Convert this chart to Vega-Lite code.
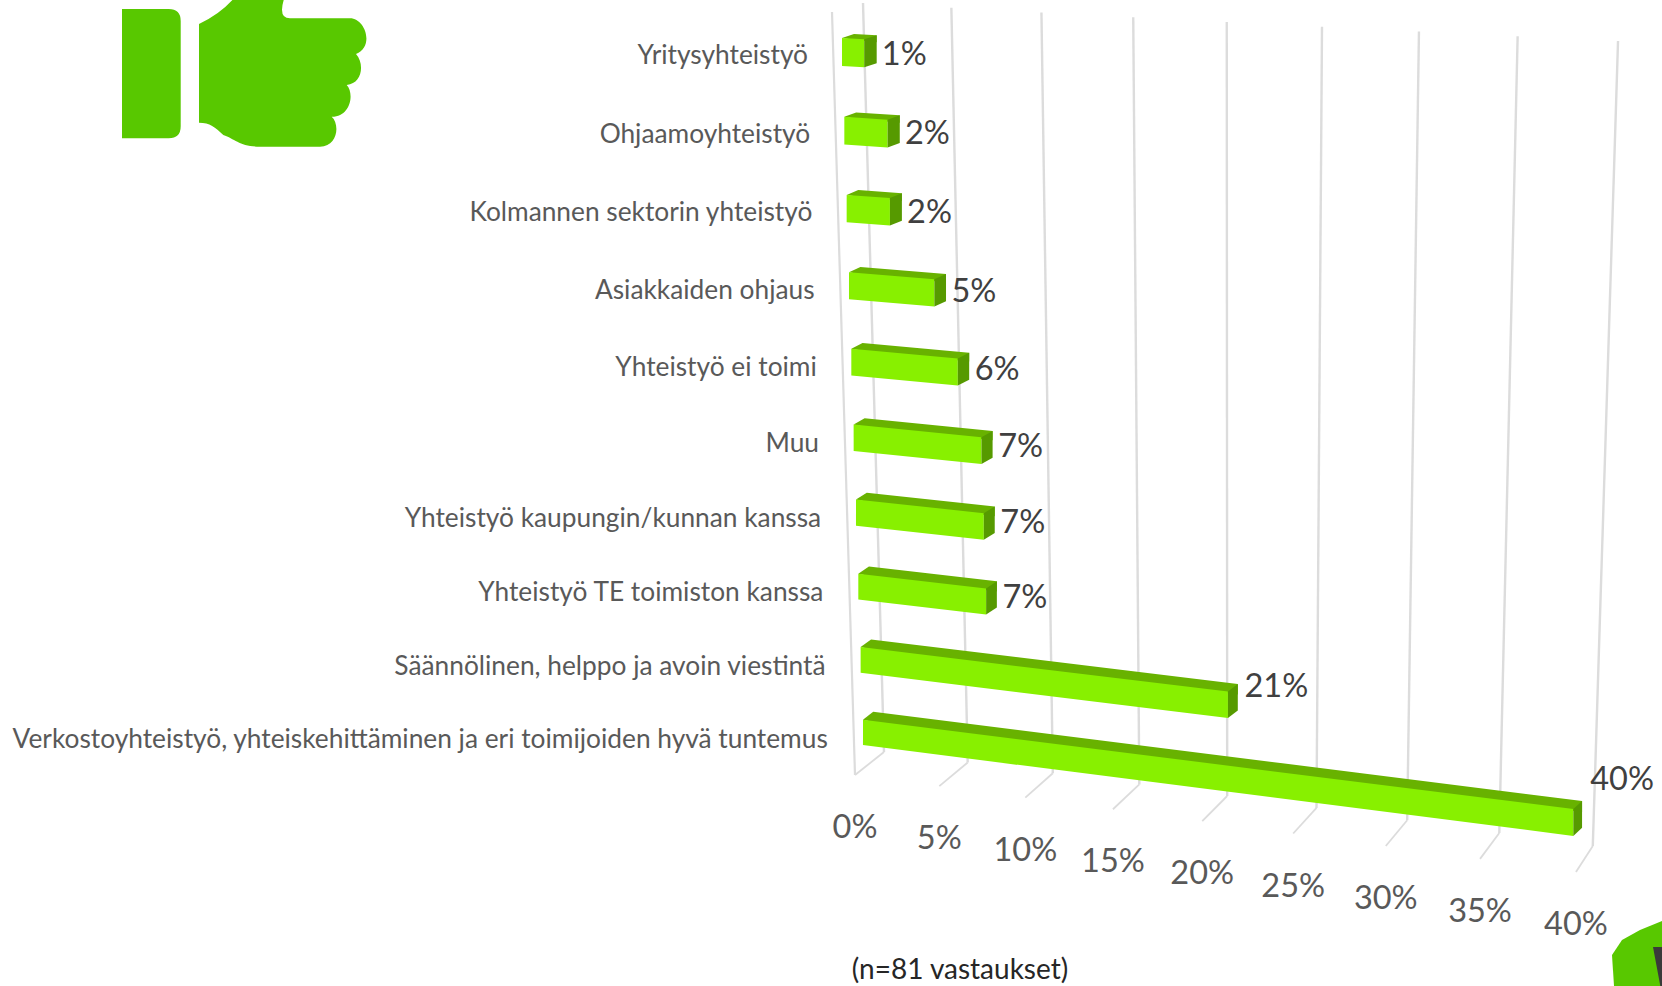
{
"$schema":"https://vega.github.io/schema/vega-lite/v6.json",
"width":1662,"height":986,"padding":0,"autosize":{"type":"none"},"background":"white",
"config":{"view":{"stroke":null},"text":{"font":"Lato"}},
"data":{"values":[
{"label":"Yritysyhteistyö","pct":1.23,"shown":"1%","rank":0},
{"label":"Ohjaamoyhteistyö","pct":2.47,"shown":"2%","rank":1},
{"label":"Kolmannen sektorin yhteistyö","pct":2.47,"shown":"2%","rank":2},
{"label":"Asiakkaiden ohjaus","pct":4.94,"shown":"5%","rank":3},
{"label":"Yhteistyö ei toimi","pct":6.17,"shown":"6%","rank":4},
{"label":"Muu","pct":7.41,"shown":"7%","rank":5},
{"label":"Yhteistyö kaupungin/kunnan kanssa","pct":7.41,"shown":"7%","rank":6},
{"label":"Yhteistyö TE toimiston kanssa","pct":7.41,"shown":"7%","rank":7},
{"label":"Säännölinen, helppo ja avoin viestintä","pct":20.99,"shown":"21%","rank":8},
{"label":"Verkostoyhteistyö, yhteiskehittäminen ja eri toimijoiden hyvä tuntemus","pct":39.5,"shown":"40%","rank":9}
]},
"datasets":{"ticks":[
{"tick":0,"name":"0%"},{"tick":5,"name":"5%"},{"tick":10,"name":"10%"},{"tick":15,"name":"15%"},{"tick":20,"name":"20%"},{"tick":25,"name":"25%"},{"tick":30,"name":"30%"},{"tick":35,"name":"35%"},{"tick":40,"name":"40%"}
]},
"transform":[
{"calculate":"842+2.33*datum.rank","as":"x0"},
{"calculate":"38+79.26*datum.rank-0.39*datum.rank*datum.rank","as":"yt0"},
{"calculate":"datum.x0+1.5+16.84*datum.pct+0.028*datum.pct*datum.pct","as":"x1"},
{"calculate":"datum.yt0+(1+0.14*datum.rank)*datum.pct","as":"yt1"},
{"calculate":"28-0.3*datum.rank","as":"h0"},
{"calculate":"datum.h0+0.04*datum.pct","as":"h1"},
{"calculate":"12.5-0.2*datum.rank-0.05*datum.pct","as":"dx"},
{"calculate":"12-0.2*datum.rank","as":"dx0"},
{"calculate":"4+0.45*datum.rank","as":"dy"}
],
"encoding":{
"x":{"field":"px","type":"quantitative","scale":{"domain":[0,1662]},"axis":null},
"y":{"field":"py","type":"quantitative","scale":{"domain":[0,986],"reverse":true},"axis":null}
},
"layer":[
{"data":{"name":"ticks"},
 "transform":[
 {"calculate":"863+17.5*datum.tick+0.0344*datum.tick*datum.tick","as":"px"},
 {"calculate":"3+0.95*datum.tick","as":"py"},
 {"calculate":"884+16.6*datum.tick+0.028*datum.tick*datum.tick","as":"bx"},
 {"calculate":"752+2.05*datum.tick+0.0075*datum.tick*datum.tick","as":"by"}],
 "mark":{"type":"rule","stroke":"#DCDCDC","strokeWidth":2.4},
 "encoding":{"x2":{"field":"bx"},"y2":{"field":"by"}}},
{"data":{"name":"ticks"},
 "transform":[
 {"calculate":"884+16.6*datum.tick+0.028*datum.tick*datum.tick","as":"px"},
 {"calculate":"752+2.05*datum.tick+0.0075*datum.tick*datum.tick","as":"py"},
 {"calculate":"855+16.7*datum.tick+0.0331*datum.tick*datum.tick","as":"bx"},
 {"calculate":"775+2.2*datum.tick+0.0056*datum.tick*datum.tick","as":"by"}],
 "mark":{"type":"rule","stroke":"#DCDCDC","strokeWidth":1.8},
 "encoding":{"x2":{"field":"bx"},"y2":{"field":"by"}}},
{"data":{"name":"ticks"},
 "transform":[{"filter":"datum.tick==0"},
 {"calculate":"832","as":"px"},{"calculate":"12","as":"py"},
 {"calculate":"855","as":"bx"},{"calculate":"775","as":"by"}],
 "mark":{"type":"rule","stroke":"#DCDCDC","strokeWidth":2.2},
 "encoding":{"x2":{"field":"bx"},"y2":{"field":"by"}}},
{"data":{"name":"ticks"},
 "transform":[
 {"calculate":"855+16.7*datum.tick+0.0331*datum.tick*datum.tick","as":"px"},
 {"calculate":"828+2.2*datum.tick+0.0056*datum.tick*datum.tick","as":"py"}],
 "mark":{"type":"text","fontSize":32.5,"align":"center","baseline":"middle","fill":"#595959"},
 "encoding":{"text":{"field":"name"}}},
{"transform":[
 {"calculate":"[0,1,2]","as":"t"},{"flatten":["t"]},
 {"calculate":"datum.t==0?datum.x0:(datum.t==1?datum.x0+datum.dx0:datum.x1+datum.dx)","as":"px"},
 {"calculate":"datum.t==0?datum.yt0:(datum.t==1?datum.yt0-datum.dy:datum.yt1-datum.dy)","as":"py"},
 {"calculate":"datum.t==0?datum.yt0:(datum.t==1?datum.yt0+(1+0.14*datum.rank)*datum.dx0/17+1:datum.yt1+3)","as":"py2"}],
 "mark":{"type":"area","fill":"#68B200","opacity":1},
 "encoding":{"y2":{"field":"py2"},"detail":{"field":"label"}}},
{"transform":[
 {"calculate":"[0,1]","as":"t"},{"flatten":["t"]},
 {"calculate":"datum.t*datum.pct","as":"q"},
 {"calculate":"datum.x0+datum.t*1.5+16.84*datum.q+0.028*datum.q*datum.q","as":"px"},
 {"calculate":"datum.yt0+(1+0.14*datum.rank)*datum.q","as":"py"},
 {"calculate":"datum.py+datum.h0+0.04*datum.q","as":"py2"}],
 "mark":{"type":"area","fill":"#88F000","opacity":1},
 "encoding":{"y2":{"field":"py2"},"detail":{"field":"label"}}},
{"transform":[
 {"calculate":"[0,1]","as":"t"},{"flatten":["t"]},
 {"calculate":"datum.x1+datum.t*datum.dx","as":"px"},
 {"calculate":"datum.yt1-datum.t*datum.dy","as":"py"},
 {"calculate":"datum.py+datum.h1","as":"py2"}],
 "mark":{"type":"area","fill":"#569A00","opacity":1},
 "encoding":{"y2":{"field":"py2"},"detail":{"field":"label"}}},
{"transform":[
 {"calculate":"808+2.2*datum.rank","as":"px"},
 {"calculate":"datum.yt0+18+0.2*datum.rank","as":"py"}],
 "mark":{"type":"text","fontSize":26.3,"align":"right","baseline":"middle","fill":"#595959"},
 "encoding":{"text":{"field":"label"}}},
{"transform":[
 {"calculate":"datum.x1+datum.dx+5+0.08*datum.pct","as":"px"},
 {"calculate":"datum.yt1+17-0.9*datum.pct-0.007*datum.pct*datum.pct","as":"py"}],
 "mark":{"type":"text","fontSize":32.5,"align":"left","baseline":"middle","fill":"#404040"},
 "encoding":{"text":{"field":"shown"}}},
{"data":{"values":[{"note":"(n=81 vastaukset)"}]},
 "transform":[{"calculate":"960","as":"px"},{"calculate":"971","as":"py"}],
 "mark":{"type":"text","fontSize":28,"align":"center","baseline":"middle","fill":"#262626"},
 "encoding":{"text":{"field":"note"}}},
{"data":{"values":[{"icon":"thumb"}]},
 "transform":[{"calculate":"235","as":"px"},{"calculate":"74","as":"py"}],
 "mark":{"type":"point","filled":true,"fill":"#58C800","opacity":1,"strokeWidth":0,"size":40000,
 "shape":"M-1.13 -0.65 L-0.663 -0.65 Q-0.543 -0.65 -0.543 -0.53 L-0.543 0.523 Q-0.543 0.643 -0.663 0.643 L-1.13 0.643 Z M-0.36 -0.5 Q-0.15 -0.6 -0.017 -0.75 L0.49 -0.75 Q0.43 -0.557 0.55 -0.557 L1.15 -0.557 C1.3 -0.557 1.4 -0.28 1.21 -0.2 C1.3 -0.1 1.27 0.1 1.117 0.11 C1.2 0.2 1.15 0.43 0.967 0.427 C1.05 0.5 1.03 0.727 0.85 0.727 L0.25 0.727 C0.05 0.727 0 0.65 -0.117 0.61 C-0.2 0.53 -0.25 0.487 -0.36 0.487 Z"}},
{"data":{"values":[{"icon":"logo"}]},
 "transform":[{"calculate":"1640","as":"px"},{"calculate":"955","as":"py"}],
 "mark":{"type":"point","filled":true,"fill":"#58C800","opacity":1,"strokeWidth":0,"size":40000,
 "shape":"M0.22 -0.34 L0 -0.25 L-0.18 -0.15 L-0.28 0 L-0.26 0.31 L0.4 0.4 L0.4 -0.34 Z"}},
{"data":{"values":[{"icon":"logo mark"}]},
 "transform":[{"calculate":"1640","as":"px"},{"calculate":"955","as":"py"}],
 "mark":{"type":"point","filled":true,"fill":"#3A3A3A","opacity":1,"strokeWidth":0,"size":40000,
 "shape":"M0.13 -0.08 L0.3 -0.08 L0.3 0.4 L0.22 0.4 Z"}}
]
}
